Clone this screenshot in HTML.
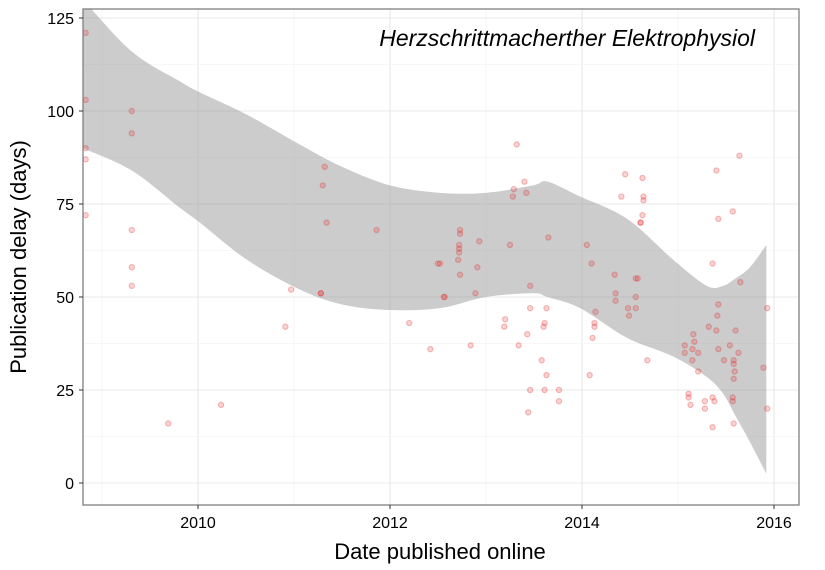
<!DOCTYPE html>
<html><head><meta charset="utf-8"><style>
html,body{margin:0;padding:0;background:#fff}
svg{display:block;font-family:"Liberation Sans",sans-serif}
</style></head><body>
<svg id="c" width="825" height="570"></svg>
<script>
const pubYears=[2008.83,2008.83,2008.83,2008.83,2008.83,2009.31,2009.31,2009.31,2009.31,2009.31,2009.69,2010.24,2010.91,2010.97,2011.28,2011.28,2011.30,2011.32,2011.34,2011.86,2012.20,2012.42,2012.50,2012.56,
2013.32,2013.40,2013.29,2013.28,2013.42,2012.73,2012.73,2012.93,2013.25,2013.65,2012.72,2012.72,2012.72,2012.71,2012.52,2012.91,2012.73,2012.89,2012.57,2013.46,2013.46,2013.63,2013.20,2013.19,2013.61,2013.60,2013.43,2012.84,2013.34,2013.58,2013.63,2013.46,2013.61,2013.76,2013.76,2013.44,
2014.05,2014.10,2014.34,2014.35,2014.35,2014.48,2014.49,2014.14,2014.13,2014.13,2014.11,2014.08,2014.56,2014.58,2014.56,2014.56,2014.68,2014.45,2014.63,2014.41,2014.64,2014.64,2014.63,2014.61,2014.61,
2015.64,2015.40,2015.57,2015.42,2015.36,2015.65,2015.93,2015.42,2015.41,2015.32,2015.40,2015.60,2015.16,2015.07,2015.17,2015.15,2015.07,2015.21,2015.42,2015.54,2015.63,2015.15,2015.48,2015.58,2015.58,2015.59,2015.21,2015.58,2015.89,2015.11,2015.11,2015.13,2015.28,2015.28,2015.36,2015.38,2015.57,2015.57,2015.93,2015.36,2015.58];
const delays=[121,103,90,87,72,100,94,68,58,53,16,21,42,52,51,51,80,85,70,68,43,36,59,50,
91,81,79,77,78,68,67,65,64,66,64,62,63,60,59,58,56,51,50,53,47,47,44,42,43,42,40,37,37,33,29,25,25,25,22,19,
64,59,56,51,49,47,45,46,43,42,39,29,55,55,50,47,33,83,82,77,77,76,72,70,70,
88,84,73,71,59,54,47,48,45,42,41,41,40,37,38,36,35,35,36,37,35,33,33,33,32,30,30,28,31,24,23,21,22,20,23,22,23,22,20,15,16];
const ribYears=[2008.80,2009.31,2009.81,2010.02,2010.51,2011.06,2011.50,2012.00,2012.52,2013.00,2013.49,2013.64,2013.98,2014.47,2014.95,2015.30,2015.47,2015.60,2015.75,2015.92];
const ribUpper=[130,116,108,105,99,91,85,80,78,78,80,81,77,71,60,53,53,55,58,64];
const ribLower=[90,84,74,70,60,52,48,46.5,47,50,51,50,47,39,34,28.5,24,18,11,2.5];
const xTicks=[2010,2012,2014,2016];
const yTicks=[0,25,50,75,100,125];

const L=83,R=799,T=9,B=505;
const xs=y=>198+(y-2010)*96;
const ys=v=>483-v*3.72;
const NS="http://www.w3.org/2000/svg";
const svg=document.getElementById('c');
function mk(t,a,p){const e=document.createElementNS(NS,t);for(const k in a)e.setAttribute(k,a[k]);(p||svg).appendChild(e);return e;}
const defs=mk('defs',{});
const cp=mk('clipPath',{id:'cp'},defs);mk('rect',{x:L,y:T,width:R-L,height:B-T},cp);
const grid=mk('g',{});


for(let y=2009;y<=2016;y++){mk('line',{x1:xs(y),x2:xs(y),y1:T,y2:B,stroke:y%2?'#f4f4f4':'#e8e8e8','stroke-width':y%2?0.8:1.1},grid);}
for(let v=-12.5;v<=130;v+=12.5){if(ys(v)<T||ys(v)>B)continue;const maj=v%25===0;mk('line',{x1:L,x2:R,y1:ys(v),y2:ys(v),stroke:maj?'#e8e8e8':'#f4f4f4','stroke-width':maj?1.1:0.8},grid);}
function smooth(pts){let d='';for(let i=0;i<pts.length;i++){const p=pts[i];if(i===0){d+='M'+p[0]+','+p[1];continue;}const p0=pts[i-2]||pts[i-1],p1=pts[i-1],p3=pts[i+1]||p;const c1=[p1[0]+(p[0]-p0[0])/6,p1[1]+(p[1]-p0[1])/6],c2=[p[0]-(p3[0]-p1[0])/6,p[1]-(p3[1]-p1[1])/6];d+='C'+c1+' '+c2+' '+p;}return d;}
const up=ribYears.map((y,i)=>[xs(y),ys(ribUpper[i])]);
const lo=ribYears.map((y,i)=>[xs(y),ys(ribLower[i])]).reverse();
let d=smooth(up)+'L'+lo[0]+smooth(lo).replace(/^M[^C]*/,'')+'Z';
const rib=mk('path',{d:d,fill:'#999','fill-opacity':0.5,'clip-path':'url(#cp)'});


const pg=mk('g',{'clip-path':'url(#cp)'});


pubYears.forEach((y,i)=>{const c=mk('circle',{cx:xs(y),cy:ys(delays[i]),r:2.6,fill:'rgba(230,40,40,0.2)',stroke:'rgba(230,40,40,0.3)','stroke-width':1.2},pg);

});
const fr=mk('rect',{x:L,y:T,width:R-L,height:B-T,fill:'none',stroke:'#7f7f7f','stroke-width':1.3});


xTicks.forEach(t=>{mk('line',{x1:xs(t),x2:xs(t),y1:B,y2:B+4,stroke:'#333'});const tx=mk('text',{x:xs(t),y:B+23,'text-anchor':'middle','font-size':16,fill:'#000'});tx.textContent=t;

});
yTicks.forEach(t=>{mk('line',{x1:L-4,x2:L,y1:ys(t),y2:ys(t),stroke:'#333'});const tx=mk('text',{x:L-9,y:ys(t)+6,'text-anchor':'end','font-size':16,fill:'#000'});tx.textContent=t;

});
</script>
<svg width="825" height="570" style="position:absolute;left:0;top:0">
<text x="440" y="559" text-anchor="middle" font-size="22" font-family="Liberation Sans,sans-serif">Date published online</text>
<text transform="translate(26,257) rotate(-90)" text-anchor="middle" font-size="22" font-family="Liberation Sans,sans-serif">Publication delay (days)</text>
<text x="755" y="46" text-anchor="end" font-size="23" font-style="italic" font-family="Liberation Sans,sans-serif">Herzschrittmacherther Elektrophysiol</text>
</svg>
</body></html>
